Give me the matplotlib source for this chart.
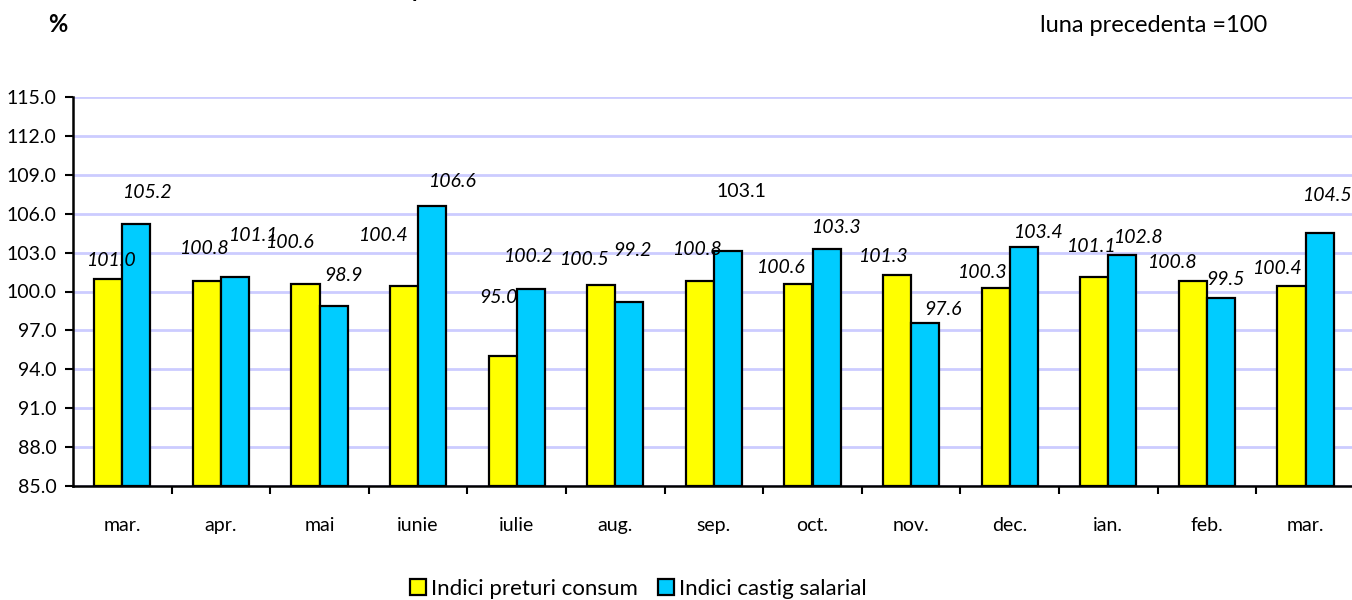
import matplotlib
matplotlib.use("Agg")
import matplotlib.pyplot as plt
import numpy as np

months = ["mar.", "apr.", "mai", "iunie", "iulie", "aug.", "sep.", "oct.", "nov.", "dec.", "ian.", "feb.", "mar."]
preturi = [101.0, 100.8, 100.6, 100.4, 95.0, 100.5, 100.8, 100.6, 101.3, 100.3, 101.1, 100.8, 100.4]
castig = [105.2, 101.1, 98.9, 106.6, 100.2, 99.2, 103.1, 103.3, 97.6, 103.4, 102.8, 99.5, 104.5]
yticks = [85.0, 88.0, 91.0, 94.0, 97.0, 100.0, 103.0, 106.0, 109.0, 112.0, 115.0]
series_names = ["Indici preturi consum", "Indici castig salarial"]

# label offsets (pixels) from the top centre of each bar
off_p = [(3, 18), (-3, 33), (-16, 41), (-21, 51), (-4, 59), (-17, 26), (-3, 32),
         (-18, 16), (-14, 18), (-14, 15), (-3, 31), (-21, 19), (-15, 18)]
off_c = [(11, 32), (18, 42), (10, 30), (20, 24), (-3, 32), (3, 51), (14, 60),
         (9, 21), (18, 13), (14, 15), (16, 18), (5, 18), (7, 38)]

plt.rcParams['font.family'] = ['Lato', 'DejaVu Sans']
FS = 14

fig = plt.figure(figsize=(13.52, 6.0), dpi=100)
W, H = 1352, 600
x0, xbot, cw, ah = 73, 486, 98.6, 389
ax = fig.add_axes([x0 / W, 1 - xbot / H, cw * 13 / W, ah / H])

n = len(months)
x = np.arange(n)
bw = 0.284
yel = "#FFFF00"
blu = "#00CCFF"
b1 = ax.bar(x - bw / 2, [v - 85 for v in preturi], bw, bottom=85, color=yel,
            edgecolor="black", linewidth=1.6, zorder=3, label=series_names[0])
b2 = ax.bar(x + bw / 2, [v - 85 for v in castig], bw, bottom=85, color=blu,
            edgecolor="black", linewidth=1.6, zorder=3, label=series_names[1])

ax.set_xlim(-0.5, n - 0.5)
ax.set_ylim(85, 115)
ax.set_yticks(yticks)
ax.set_yticklabels([f"{v:.1f}" for v in yticks], fontsize=FS)
ax.set_xticks(x)
ax.set_xticklabels(months, fontsize=FS)
ax.set_xticks(np.arange(0.5, n - 0.5, 1), minor=True)
ax.tick_params(axis="x", which="major", length=0, pad=22)
ax.tick_params(axis="x", which="minor", length=6, width=1.5, direction="out")
ax.tick_params(axis="y", which="major", length=6, width=1.5, direction="out", pad=6)
for s in ["top", "right"]:
    ax.spines[s].set_visible(False)
for s in ["left", "bottom"]:
    ax.spines[s].set_linewidth(1.8)
    ax.spines[s].set_zorder(4)
ax.grid(axis="y", color="#CCCCFF", linewidth=2, zorder=0)
ax.set_axisbelow(True)

px = 0.72
for i in range(n):
    dx, dy = off_p[i]
    ax.annotate(f"{preturi[i]:.1f}", (x[i] - bw / 2, preturi[i]),
                xytext=(dx * px, dy * px), textcoords="offset points",
                ha="center", va="center", fontsize=FS, style="italic", zorder=5)
    dx, dy = off_c[i]
    st = "normal" if i == 6 else "italic"
    ax.annotate(f"{castig[i]:.1f}", (x[i] + bw / 2, castig[i]),
                xytext=(dx * px, dy * px), textcoords="offset points",
                ha="center", va="center", fontsize=FS, style=st, zorder=5)

fig.text(58 / W, 1 - 24 / H, "%", fontsize=17, fontweight="bold", ha="center", va="center")
fig.text(1267 / W, 1 - 26 / H, "luna precedenta =100", fontsize=17, ha="right", va="center")
fig.text(418 / W, 1 + 3 / H, "p", fontsize=16, fontweight="bold", ha="center", va="baseline")

leg = fig.legend(handles=[b1, b2], loc="center", bbox_to_anchor=(638 / W, 1 - 589 / H),
                 ncol=2, frameon=False, fontsize=16, handlelength=0.75, handleheight=0.75,
                 handletextpad=0.2, columnspacing=0.9, borderpad=0.2)

fig.savefig("out.png", dpi=100)
